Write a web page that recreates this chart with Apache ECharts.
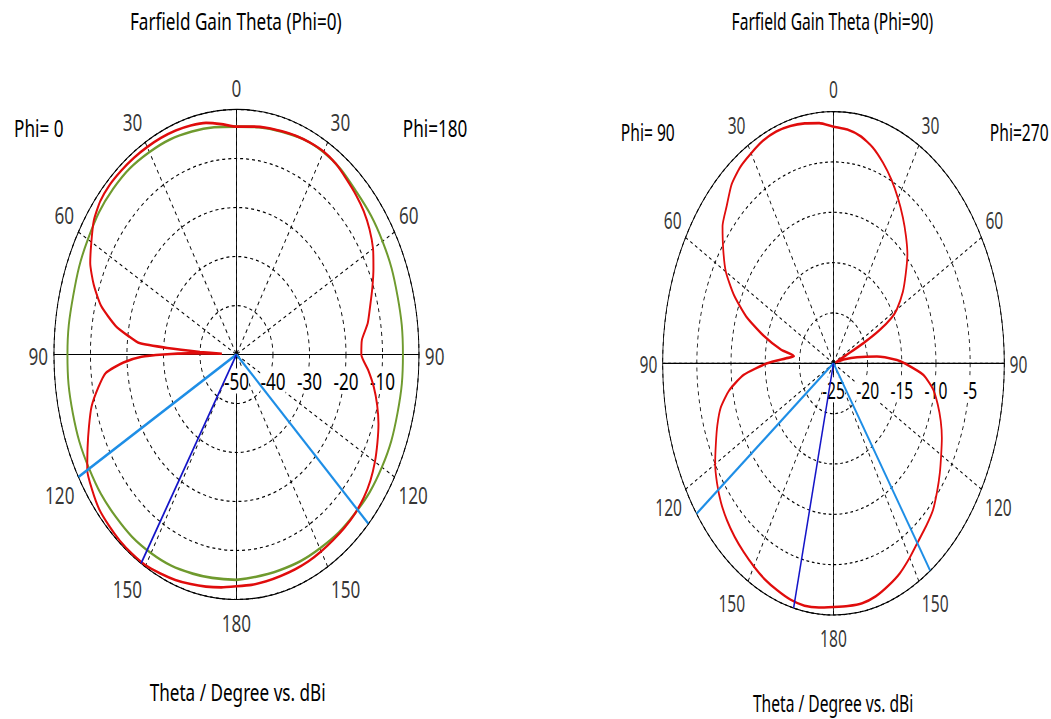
<!DOCTYPE html>
<html><head><meta charset="utf-8">
<script src="https://cdn.jsdelivr.net/npm/echarts@6/dist/echarts.min.js"></script>
<style>
html,body{margin:0;padding:0;background:#fff;width:1051px;height:719px;overflow:hidden}
.c{position:absolute;top:0;height:719px;transform-origin:0 0}
#c1{left:0;width:705px;transform:scaleX(0.745)}
#c2{left:525px;width:775px;transform:scaleX(0.6786)}
</style></head><body>
<div id="c1" class="c"></div><div id="c2" class="c"></div>
<script>
// ---------------- data ----------------
const ANGLE_LABELS = [0, 30, 60, 90, 120, 150, 180];

// Chart 1 : Farfield Gain Theta (Phi=0)
const P0_TITLE = 'Farfield Gain Theta (Phi=0)';
const P0_SIDE_LABELS = ['Phi= 0', 'Phi=180'];
const P0_RADIUS = [-50, 0, 10];           // min, max, step (dBi)
// left half (Phi=0)
const P0_RED_L_THETA = [0,5,10,15,20,25,30,35,40,45,50,55,60,65,70,75,80,83,85,86,87,88,89,90,91,93,96,100,105,110,115,120,125,130,135,140,145,150,155,160,165,170,175,180];
const P0_RED_L_GAIN  = [-3.5,-2.8,-2.0,-1.6,-1.35,-1.2,-1.1,-1.0,-0.95,-0.95,-1.3,-2.3,-4.1,-5.8,-8.4,-11.6,-16.4,-20.5,-23.3,-31,-40,-46,-37,-30,-24,-19,-14,-11.6,-8.9,-7.0,-5.0,-2.8,-1.75,-0.9,-0.6,-0.35,-0.28,-0.3,-0.7,-1.05,-1.5,-1.9,-2.3,-2.7];
// right half (Phi=180)
const P0_RED_R_THETA = [0,5,10,15,20,25,30,35,40,45,50,55,60,65,70,75,80,85,90,95,100,105,110,115,120,125,130,135,140,145,150,155,160,165,170,175,180];
const P0_RED_R_GAIN  = [-3.5,-3.3,-3.0,-2.8,-2.5,-2.3,-2.2,-2.5,-3.2,-3.8,-4.5,-5.5,-6.8,-8.6,-10.4,-12.1,-13.5,-15.5,-15.8,-13.8,-11.8,-10.1,-8.6,-7.4,-6.2,-5.2,-4.5,-4.1,-3.9,-3.8,-3.6,-3.4,-3.3,-3.2,-3.0,-2.8,-2.7];
const P0_GREEN_L_THETA = [0,15,30,45,60,75,90,105,120,135,150,165,180];
const P0_GREEN_L_GAIN  = [-3.5,-2.9,-2.3,-2.2,-3.0,-3.7,-3.7,-3.6,-3.4,-3.2,-3.2,-3.7,-4.0];
const P0_GREEN_R_THETA = [0,15,30,45,60,75,90,105,120,135,150,165,180];
const P0_GREEN_R_GAIN  = [-3.5,-2.9,-2.3,-3.3,-3.8,-4.3,-4.4,-4.3,-4.0,-4.1,-4.3,-4.4,-4.0];
const P0_MAIN_LOBE = [148.5];    // theta on Phi=0 side
const P0_BEAMWIDTH_L = [120];    // theta on Phi=0 side
const P0_BEAMWIDTH_R = [133.7];  // theta on Phi=180 side

// Chart 2 : Farfield Gain Theta (Phi=90)
const P90_TITLE = 'Farfield Gain Theta (Phi=90)';
const P90_SIDE_LABELS = ['Phi= 90', 'Phi=270'];
const P90_RADIUS = [-25, 0, 5];
const P90_RED_L_THETA = [0,5,10,15,20,25,30,35,40,45,50,55,60,65,70,75,80,83,86,90,95,100,105,110,115,120,125,130,135,140,145,150,155,160,165,170,175,180];
const P90_RED_L_GAIN  = [-1.5,-1.05,-0.8,-0.6,-0.5,-0.6,-0.9,-1.2,-1.8,-2.9,-3.8,-5.3,-6.8,-8.9,-11.4,-14.4,-17.2,-19.2,-18.0,-15.3,-11.8,-9.5,-7.9,-6.9,-6.0,-5.0,-4.2,-3.5,-2.95,-2.5,-2.1,-1.7,-1.3,-1.0,-0.7,-0.55,-0.65,-0.8];
const P90_RED_R_THETA = [0,5,10,15,20,25,30,35,40,45,50,55,60,62,64,65.5,66.5,68,72,76,80,84,88,90,95,100,105,110,115,120,125,130,135,140,145,150,155,160,165,170,175,180];
const P90_RED_R_GAIN  = [-1.5,-1.7,-2.1,-2.8,-3.8,-4.9,-6.1,-7.3,-8.5,-9.7,-11.2,-12.6,-14.3,-15.4,-17.5,-20.2,-23.0,-24.6,-24.6,-23.3,-21.5,-18.6,-15.7,-14.6,-11.8,-10.2,-9.2,-8.3,-7.5,-6.8,-6.0,-5.2,-4.4,-3.9,-3.4,-2.7,-2.0,-1.5,-1.05,-0.8,-0.8,-0.8];
const P90_MAIN_LOBE = [166.5];
const P90_BEAMWIDTH_L = [126.7];
const P90_BEAMWIDTH_R = [145.5];

const XLABEL = 'Theta / Degree vs. dBi';

// ---------------- styles ----------------
const FONT = '"Noto Sans", "Liberation Sans", Arial, sans-serif';
const FS = 23;
const TXT = '#000';
const RED = '#e00c0c', GREEN = '#6f9a2e', LBLUE = '#1e8ee6', DBLUE = '#1414c8';
const LABEL_OFFSET = {0:[0,-22],30:[17,-20],60:[19,-17],90:[21,1],120:[25,18],150:[24,22],180:[0,23]};

// theta on a side -> polar angle value (0 = right, counter-clockwise)
function ang(theta, side) {
  if (side === 'L') return theta + 90;
  return theta <= 90 ? 90 - theta : 450 - theta;
}
function curve(thL, gL, thR, gR) {
  const pts = [];
  for (let i = thR.length - 1; i >= 0; i--) pts.push([gR[i], ang(thR[i], 'R')]);
  for (let i = 0; i < thL.length; i++) pts.push([gL[i], ang(thL[i], 'L')]);
  return pts;
}
function ray(rmin, rmax, a) { return [[rmin, a], [rmax, a]]; }

function build(cfg) {
  const [rmin, rmax, rstep] = cfg.radius;
  const series = [];
  series.push({type:'line', coordinateSystem:'polar', symbol:'none', silent:true, z:0,
    lineStyle:{color:'#000', width:1.2},
    data:[[rmax,90],[rmin,90],[rmin,180],[rmax,180],[rmin,180],[rmin,270],[rmax,270],[rmin,270],[rmin,0],[rmax,0]]});
  if (cfg.green) series.push({type:'line', coordinateSystem:'polar', symbol:'none', smooth:0.4, z:2,
    lineStyle:{color:GREEN, width:2.6}, data: curve(...cfg.green)});
  series.push({type:'line', coordinateSystem:'polar', symbol:'none', smooth:0.2, z:3,
    lineStyle:{color:RED, width:2.6}, data: curve(...cfg.red)});
  cfg.bwL.forEach(t => series.push({type:'line', coordinateSystem:'polar', symbol:'none', z:4,
    lineStyle:{color:LBLUE, width:2.6}, data: ray(rmin, rmax, ang(t,'L'))}));
  cfg.bwR.forEach(t => series.push({type:'line', coordinateSystem:'polar', symbol:'none', z:4,
    lineStyle:{color:LBLUE, width:2.6}, data: ray(rmin, rmax, ang(t,'R'))}));
  cfg.main.forEach(t => series.push({type:'line', coordinateSystem:'polar', symbol:'none', z:5,
    lineStyle:{color:DBLUE, width:2.2}, data: ray(rmin, rmax, ang(t,'L'))}));
  const lab = [];
  ANGLE_LABELS.forEach(t => {
    const o = LABEL_OFFSET[t];
    lab.push({value:[rmax, ang(t,'L')], name:String(t), label:{offset:[-o[0], o[1]]}});
    if (t !== 0 && t !== 180) lab.push({value:[rmax, ang(t,'R')], name:String(t), label:{offset:[o[0], o[1]]}});
  });
  series.push({type:'scatter', coordinateSystem:'polar', symbol:'circle', symbolSize:1, silent:true, z:6,
    itemStyle:{color:'rgba(0,0,0,0)'},
    label:{show:true, position:'inside', formatter:p => p.name, fontSize:FS, fontFamily:FONT, color:TXT},
    data: lab});
  const txt = (x, y, text, align) => ({type:'text', x, y,
    style:{text, font:FS + 'px ' + FONT, fill:TXT, textAlign:align || 'center', textVerticalAlign:'middle'}});
  return {
    animation:false,
    backgroundColor:'#fff',
    polar:{center:cfg.center, radius:cfg.R},
    angleAxis:{type:'value', min:0, max:360, interval:30, startAngle:0, clockwise:false, z:0,
      axisLine:{show:true, lineStyle:{color:'#000', width:1.2}},
      axisTick:{show:false}, axisLabel:{show:false},
      splitLine:{show:true, lineStyle:{color:'#000', width:1.2, type:[4,4]}}},
    radiusAxis:{type:'value', min:rmin, max:rmax, interval:rstep, z:1,
      axisLine:{show:true, lineStyle:{color:'#000', width:1.2}},
      axisTick:{show:false},
      axisLabel:{show:true, margin:-39, showMaxLabel:false, fontSize:FS, fontFamily:FONT, color:TXT,
        backgroundColor:'#fff', padding:[1,0]},
      splitLine:{show:true, lineStyle:{color:'#000', width:1.2, type:[4,4]}}},
    graphic:[
      txt(cfg.titleX, 21, cfg.title),
      txt(cfg.xlabX, cfg.xlabY, XLABEL),
      txt(cfg.sideL[0], cfg.sideL[1], cfg.sides[0]),
      txt(cfg.sideR[0], cfg.sideR[1], cfg.sides[1], cfg.sideRAlign)
    ],
    series
  };
}

const ch1 = echarts.init(document.getElementById('c1'), null, {renderer:'svg'});
ch1.setOption(build({
  radius:P0_RADIUS, center:[317.4,354.5], R:245, title:P0_TITLE, titleX:316.5, xlabX:319, xlabY:692,
  sides:P0_SIDE_LABELS, sideL:[52,128], sideR:[584,128], sideRAlign:'center',
  red:[P0_RED_L_THETA,P0_RED_L_GAIN,P0_RED_R_THETA,P0_RED_R_GAIN],
  green:[P0_GREEN_L_THETA,P0_GREEN_L_GAIN,P0_GREEN_R_THETA,P0_GREEN_R_GAIN],
  main:P0_MAIN_LOBE, bwL:P0_BEAMWIDTH_L, bwR:P0_BEAMWIDTH_R
}));
const ch2 = echarts.init(document.getElementById('c2'), null, {renderer:'svg'});
ch2.setOption(build({
  radius:P90_RADIUS, center:[454.6,363.3], R:251.7, title:P90_TITLE, titleX:453, xlabX:454, xlabY:703,
  sides:P90_SIDE_LABELS, sideL:[181,132], sideR:[685,132], sideRAlign:'left',
  red:[P90_RED_L_THETA,P90_RED_L_GAIN,P90_RED_R_THETA,P90_RED_R_GAIN],
  green:null,
  main:P90_MAIN_LOBE, bwL:P90_BEAMWIDTH_L, bwR:P90_BEAMWIDTH_R
}));
</script></body></html>
